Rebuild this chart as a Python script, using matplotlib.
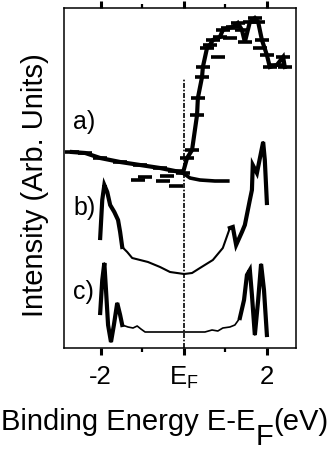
import numpy as np
import matplotlib
matplotlib.use('Agg')
import matplotlib.pyplot as plt

plt.rcParams['font.family'] = ['Liberation Sans', 'DejaVu Sans']

# curve a): measured spectrum (line with dash markers)
a_x = [-2.69, -2.37, -2.01, -1.53, -1.05, -0.57, -0.21, -0.02, 0.08, 0.20,
       0.32, 0.34, 0.44, 0.46, 0.56, 0.63, 0.70, 0.87, 0.94, 1.06, 1.18,
       1.30, 1.40, 1.47, 1.59, 1.71, 1.79, 1.88, 2.00, 2.07, 2.24, 2.39, 2.43]
a_y = [196, 195, 190, 186, 183, 180, 177, 175, 190, 198,
       233, 250, 271, 281, 300, 303, 308, 311, 318, 320, 321,
       325, 318, 306, 326, 330, 326, 308, 293, 281, 283, 291, 281]
# loose points of a)
a_pts_x = [-1.10, -0.93, -0.50, -0.40, -0.19, 0.82, 1.11, 1.83]
a_pts_y = [168, 171, 167, 172, 162, 291, 310, 300]
# flat branch of a) after E_F
a2_x = [-0.02, 0.15, 0.39, 0.75, 1.06]
a2_y = [175, 170, 168, 167, 167]

# curve b)
b_x = [-2.01, -1.96, -1.91, -1.84, -1.77, -1.67, -1.58, -1.53, -1.48, -1.36,
       -1.24, -1.05, -0.86, -0.57, -0.33, 0.01, 0.20, 0.39, 0.70, 0.94,
       1.11, 1.18, 1.26, 1.40, 1.47, 1.59, 1.64, 1.66, 1.76, 1.91, 1.95, 2.00]
b_y = [110, 148, 163, 156, 143, 136, 128, 116, 101, 96,
       90, 88, 86, 81, 76, 74, 75, 80, 88, 100,
       120, 121, 103, 116, 123, 148, 158, 183, 175, 206, 188, 145]

# curve c)
c_x = [-2.01, -1.96, -1.91, -1.87, -1.82, -1.75, -1.68, -1.60, -1.53, -1.48,
       -1.34, -1.22, -1.12, -1.03, -0.93, -0.57, 0.01, 0.51, 0.68, 0.82,
       0.94, 1.11, 1.23, 1.35, 1.45, 1.52, 1.59, 1.64, 1.71, 1.79, 1.86,
       1.93, 2.00]
c_y = [35, 68, 85, 58, 23, 6, 23, 45, 33, 23,
       21, 20, 22, 19, 16, 16, 16, 16, 18, 17,
       20, 21, 23, 30, 48, 73, 78, 53, 13, 48, 84,
       58, 13]

xticks = [-2, 0, 2]
xtick_labels = ['-2', r'E$_\mathregular{F}$', '2']
minor_ticks = [-1, 1]

fig = plt.figure(figsize=(3.34, 4.5), dpi=100)
ax = fig.add_axes([64 / 334, 1 - 348 / 450, 232 / 334, 340 / 450])

# a)
ax.plot(a_x, a_y, color='k', lw=3.0, marker='_', ms=10, mew=2.6,
        solid_joinstyle='miter')
ax.plot(a2_x, a2_y, color='k', lw=2.6)
ax.plot(a_pts_x, a_pts_y, ls='none', color='k', marker='_', ms=10, mew=2.6)

# b) and c): thin overall, thicker on the steep outer parts
for xs, ys, cut, thin in [(b_x, b_y, (-1.45, 1.0), 1.5),
                          (c_x, c_y, (-1.45, 1.3), 1.2)]:
    xs = np.array(xs)
    ys = np.array(ys)
    ax.plot(xs, ys, color='k', lw=thin)
    m = xs <= cut[0]
    ax.plot(xs[m], ys[m], color='k', lw=3.0, solid_joinstyle='miter')
    m = xs >= cut[1]
    ax.plot(xs[m], ys[m], color='k', lw=3.0, solid_joinstyle='miter')

ax.plot([0, 0], [0, 270], color='k', lw=1.2, ls=(0, (3, 1, 1, 1)))

for lab, yy in [('a)', 226), ('b)', 140), ('c)', 56)]:
    ax.text(-2.66, yy, lab, fontsize=18, va='center', ha='left')

ax.set_xlim(-2.88, 2.70)
ax.set_ylim(0, 340)
ax.set_xticks(xticks)
ax.set_xticklabels(xtick_labels, fontsize=18.5)
ax.set_xticks(minor_ticks, minor=True)
ax.set_yticks([])
ax.tick_params(axis='x', which='major', direction='out', length=5, width=2.2,
               pad=7, top=True)
ax.tick_params(axis='x', which='minor', direction='out', length=3, width=1.6,
               top=True)
for s in ax.spines.values():
    s.set_linewidth(1.1)

# x label with full-size, lowered F
fig.canvas.draw()
r = fig.canvas.get_renderer()
inv = fig.transFigure.inverted()
t1 = fig.text(0.003, 1 - 430 / 450, 'Binding Energy E-E', fontsize=21,
              va='baseline', ha='left')
x1 = inv.transform((t1.get_window_extent(r).x1, 0))[0]
t2 = fig.text(x1, 1 - 445 / 450, 'F', fontsize=21, va='baseline', ha='left')
x2 = inv.transform((t2.get_window_extent(r).x1, 0))[0]
fig.text(x2, 1 - 430 / 450, '(eV)', fontsize=21, va='baseline', ha='left')

fig.text(0.106, 1 - 185 / 450, 'Intensity (Arb. Units)', fontsize=21,
         rotation=90, va='center', ha='center')

fig.savefig('out.png', dpi=100)
